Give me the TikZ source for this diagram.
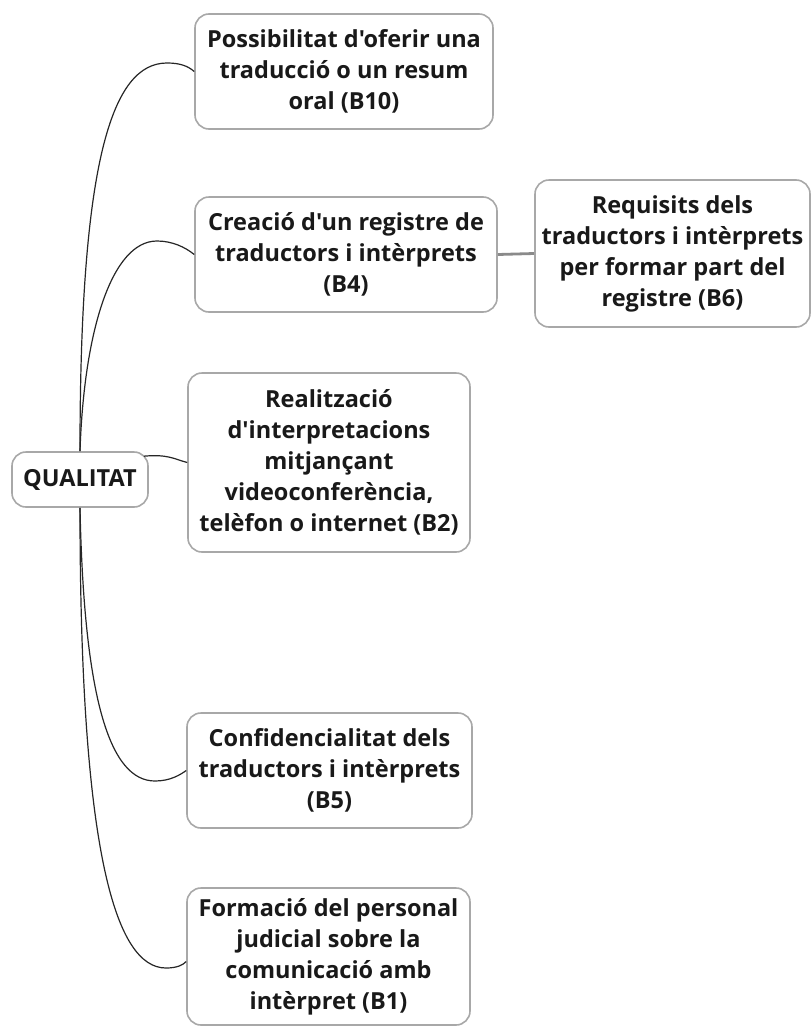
\documentclass[tikz,border=0pt]{standalone}
\usepackage{fontspec}
\newfontfamily\nsans{Open Sans}
\usetikzlibrary{calc}
\definecolor{boxgray}{HTML}{A8A8A8}
\definecolor{linkgray}{HTML}{8A8A8A}
\tikzset{
  topic/.style={draw=boxgray, line width=1.6pt, rounded corners=14pt, fill=white,
    align=center, inner sep=0pt, text=black!90,
    font={\nsans\fontsize{23.5}{31}\selectfont\bfseries}},
  conn/.style={draw=black!85, line width=1.2pt},
  sublink/.style={draw=linkgray, line width=2.8pt}
}
\begin{document}
\begin{tikzpicture}[x=1pt,y=-1pt]
\useasboundingbox (0,0) rectangle (811,1028);
\node[topic, minimum width=136, minimum height=55] (q) at (80,479.5) {QUALITAT};
\node[topic, minimum width=298, minimum height=115] (b10) at (344,71.5) {Possibilitat d'oferir una\\traducció o un resum\\oral (B10)};
\node[topic, minimum width=302, minimum height=115] (b4) at (346,254.5) {Creació d'un registre de\\traductors i intèrprets\\(B4)};
\node[topic, minimum width=275, minimum height=147] (b6) at (672.5,253.5) {Requisits dels\\traductors i intèrprets\\per formar part del\\registre (B6)};
\node[topic, minimum width=282, minimum height=179] (b2) at (329,462.5) {Realització\\d'interpretacions\\mitjançant\\videoconferència,\\telèfon o internet (B2)};
\node[topic, minimum width=285, minimum height=115] (b5) at (329.5,770.5) {Confidencialitat dels\\traductors i intèrprets\\(B5)};
\node[topic, minimum width=283, minimum height=137] (b1) at (328.5,956.5) {Formació del personal\\judicial sobre la\\comunicació amb\\intèrpret (B1)};
\coordinate (p10) at (167,63);
\coordinate (p4) at (157,241);
\coordinate (p5) at (155,781);
\coordinate (p1) at (166,968);
\draw[conn] (q.north) .. controls (80,160) and (112,63) .. (p10) .. controls (180,63) and (188,66) .. (b10.west);
\draw[conn] (q.north) .. controls (84,330) and (112,241) .. (p4) .. controls (172,241) and (185,247) .. (b4.west);
\draw[conn] ($(q.north east)+(-5,5)$) .. controls (168,454) and (174,459) .. (b2.west);
\draw[conn] (q.south) .. controls (84,700) and (110,781) .. (p5) .. controls (170,781) and (180,775) .. (b5.west);
\draw[conn] (q.south) .. controls (80,850) and (115,968) .. (p1) .. controls (177,968) and (183,965) .. ($(b1.west)+(0,5)$);
\draw[sublink] (b4.east) -- (b6.west);
\end{tikzpicture}
\end{document}
